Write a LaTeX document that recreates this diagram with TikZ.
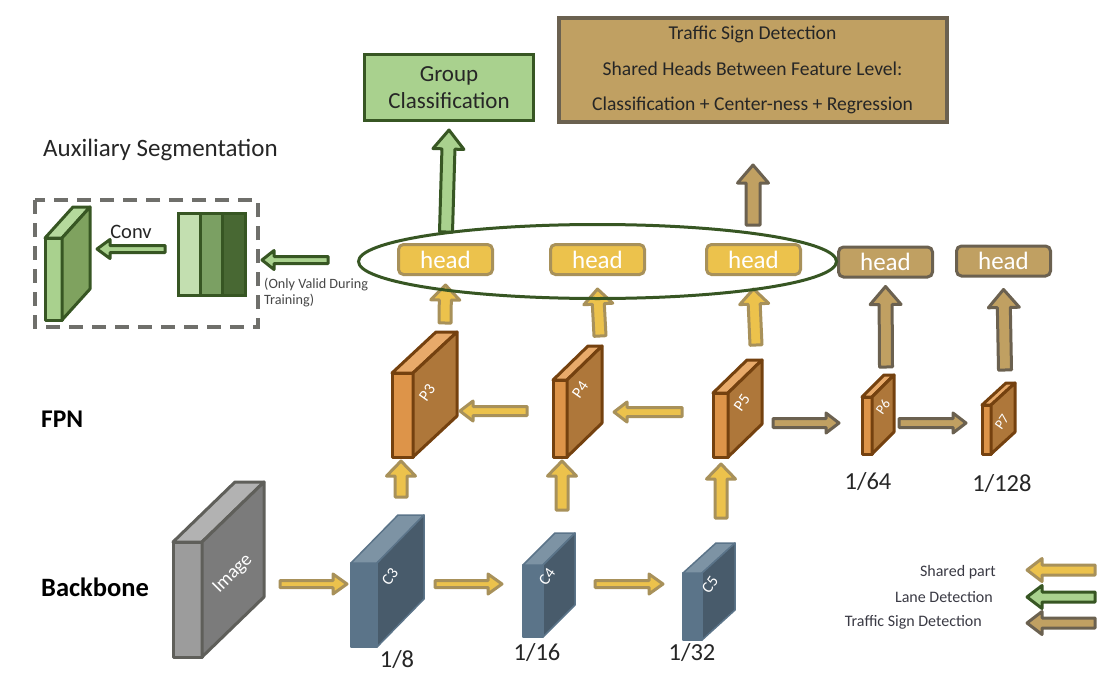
\documentclass[tikz,border=0pt]{standalone}
\usepackage{fontspec}
\setmainfont{Carlito}
\usetikzlibrary{calc,shapes.geometric}
\definecolor{yfill}{HTML}{ECC24C}
\definecolor{yline}{HTML}{A8915A}
\definecolor{tfill}{HTML}{C0A062}
\definecolor{tline}{HTML}{6B6150}
\definecolor{gfill}{HTML}{A9D18E}
\definecolor{gline}{HTML}{375623}
\definecolor{Pfront}{HTML}{DD9449}
\definecolor{Pside}{HTML}{AE773A}
\definecolor{Ptop}{HTML}{E8AA6A}
\definecolor{Pdraw}{HTML}{74410F}
\definecolor{Cfront}{HTML}{5B7489}
\definecolor{Cside}{HTML}{485B6B}
\definecolor{Ctop}{HTML}{7D93A4}
\definecolor{Ifront}{HTML}{9C9C9C}
\definecolor{Iside}{HTML}{7B7B7B}
\definecolor{Itop}{HTML}{B2B2B2}
\definecolor{Idraw}{HTML}{5F5F5A}
\definecolor{Afront}{HTML}{A9D18E}
\definecolor{Aside}{HTML}{7FA25F}
\definecolor{Atop}{HTML}{B5D99C}
\definecolor{txt}{HTML}{262626}
\definecolor{legtxt}{HTML}{3A3A44}
\tikzset{
  Pedge/.style={draw=Pdraw, line width=3pt, line join=round},
  Cedge/.style={draw=Cfront, line width=1.5pt, line join=round},
  Iedge/.style={draw=Idraw, line width=3pt, line join=round},
  Aedge/.style={draw=gline, line width=3pt, line join=round},
  yarrow/.style={fill=yfill, draw=yline, line width=3pt, line join=round},
  tarrow/.style={fill=tfill, draw=tline, line width=3pt, line join=round},
  garrow/.style={fill=gfill, draw=gline, line width=3pt, line join=round},
  yhead/.style={draw=yline, fill=yfill, line width=3pt, rounded corners=5pt,
     minimum width=94pt, minimum height=30pt, inner sep=0pt, text=white,
     font=\fontsize{25}{25}\selectfont},
  thead/.style={yhead, draw=tline, fill=tfill},
  cublabel/.style={text=white, inner sep=0pt, font=\fontsize{16}{16}\selectfont},
  fraclabel/.style={text=txt, inner sep=0pt, font=\fontsize{24.5}{24.5}\selectfont},
  legtext/.style={text=legtxt, anchor=east, inner sep=0pt, font=\fontsize{16}{16}\selectfont},
}
% cuboid: #1 prefix, front (#2,#3)-(#4,#5), depth (#6 right, #7 up)
\newcommand{\cuboid}[7]{%
  \filldraw[#1edge, fill=#1front] (#2,#3) rectangle (#4,#5);
  \filldraw[#1edge, fill=#1top] (#2,#3) -- (#4,#3) -- ({#4+#6},{#3-#7}) -- ({#2+#6},{#3-#7}) -- cycle;
  \filldraw[#1edge, fill=#1side] (#4,#3) -- ({#4+#6},{#3-#7}) -- ({#4+#6},{#5-#7}) -- (#4,#5) -- cycle;
}
% block arrow: #1 style, #2 from, #3 to, #4 half shaft, #5 half head, #6 head length
\newcommand{\blockarrow}[6]{%
  \coordinate (bah) at ($(#3)!#6!(#2)$);
  \filldraw[#1] ($(#2)!#4!90:(#3)$) -- ($(bah)!#4!90:(#3)$) -- ($(bah)!#5!90:(#3)$) -- (#3)
     -- ($(bah)!#5!-90:(#3)$) -- ($(bah)!#4!-90:(#3)$) -- ($(#2)!#4!-90:(#3)$) -- cycle;
}
\begin{document}
\begin{tikzpicture}[x=1pt,y=-1pt]
\useasboundingbox (0,0) rectangle (1118,682);
\fill[white] (0,0) rectangle (1118,682);

% ---------- Auxiliary segmentation ----------
\node[anchor=west, text=txt, inner sep=0pt, font=\fontsize{25}{25}\selectfont] (auxlabel) at (43,150) {Auxiliary Segmentation};
\draw[draw=Idraw!90, line width=4pt, dash pattern=on 14pt off 9pt] (35,200) rectangle (258,327);
\cuboid{A}{45}{238}{62}{320}{28}{31}
\coordinate (auxslab) at (75,265);
\filldraw[draw=gline, line width=3pt, fill=gfill!70!white] (178,213) rectangle (200.3,295);
\filldraw[draw=gline, line width=3pt, fill=gfill!60!gline] (200.3,213) rectangle (222.6,295);
\filldraw[draw=gline, line width=3pt, fill=gline!85!gfill] (222.6,213) rectangle (245,295);
\coordinate (convs) at (165,249);
\coordinate (convt) at (97,249);
\blockarrow{garrow}{convs}{convt}{3.5pt}{9.5pt}{13pt}
\node[text=txt, inner sep=0pt, font=\fontsize{20.5}{20.5}\selectfont] (convlabel) at (131,232) {Conv};
\coordinate (auxs) at (328,260);
\coordinate (auxt) at (262,260);
\blockarrow{garrow}{auxs}{auxt}{3.5pt}{9.5pt}{12pt}
\node[anchor=north west, text=txt!85, inner sep=0pt, align=left, font=\fontsize{14.2}{15.5}\selectfont] (validlabel) at (264,278) {(Only Valid During\\Training)};

% ---------- top boxes ----------
\node[draw=gline, fill=gfill, line width=3pt, minimum width=169pt, minimum height=66pt, inner sep=0pt,
  align=center, text=txt, font=\fontsize{23}{27}\selectfont] (group) at (449,87.5) {Group\\Classification};
\node[draw=tline, fill=tfill, line width=4pt, minimum width=388pt, minimum height=104pt, inner sep=0pt,
  align=center, text=txt, font=\fontsize{19.6}{35.5}\selectfont] (traffic) at (752.5,70) {Traffic Sign Detection\\Shared Heads Between Feature Level:\\Classification + Center-ness + Regression};

% ---------- heads ----------
\node[yhead] (head1) at (445.5,259.5) {head};
\node[yhead] (head2) at (597.5,259.5) {head};
\node[yhead] (head3) at (753.5,259.5) {head};
\node[thead] (head4) at (885.5,262) {head};
\node[thead] (head5) at (1003.5,261) {head};

% ---------- FPN ----------
\node[anchor=west, text=black, inner sep=0pt, font=\bfseries\fontsize{25.5}{25.5}\selectfont] (fpn) at (41,419) {FPN};
\cuboid{P}{392}{373}{413}{457}{44}{41}
\cuboid{P}{553}{380}{567}{457}{35}{34}
\cuboid{P}{713}{393}{728}{457}{34}{33}
\cuboid{P}{862}{397}{872}{454}{22}{22}
\cuboid{P}{982}{405}{991}{454}{24}{22}
\node[cublabel, rotate=55] (p3) at (427,393) {P3};
\node[cublabel, rotate=55] (p4) at (580,390) {P4};
\node[cublabel, rotate=55] (p5) at (742,403) {P5};
\node[cublabel, rotate=55, font=\fontsize{14}{14}\selectfont] (p6) at (883,407) {P6};
\node[cublabel, rotate=55, font=\fontsize{14}{14}\selectfont] (p7) at (1002,422) {P7};
\node[fraclabel] (f64) at (868,482) {1/64};
\node[fraclabel] (f128) at (1002,484) {1/128};

% ---------- Backbone ----------
\node[anchor=west, text=black, inner sep=0pt, font=\bfseries\fontsize{26.5}{26.5}\selectfont] (backbone) at (41,587) {Backbone};
\cuboid{I}{173}{542}{202}{657}{62}{60}
\node[text=white, inner sep=0pt, rotate=45, font=\fontsize{19}{19}\selectfont] (imglabel) at (233,574) {Image};
\cuboid{C}{351}{563}{377}{647}{47}{48}
\cuboid{C}{523}{565}{543}{637}{32}{32}
\cuboid{C}{683}{573}{702}{640}{33}{30}
\node[cublabel, rotate=55] (c3) at (390,577) {C3};
\node[cublabel, rotate=55] (c4) at (547,577) {C4};
\node[cublabel, rotate=55] (c5) at (710,585) {C5};
\node[fraclabel] (f8) at (397,660) {1/8};
\node[fraclabel] (f16) at (537,653) {1/16};
\node[fraclabel] (f32) at (692,653) {1/32};

% ---------- arrows ----------
\coordinate (a1s) at (280,584); \coordinate (a1t) at (347,584);
\coordinate (a2s) at (435,584); \coordinate (a2t) at (502,584);
\coordinate (a3s) at (595,584); \coordinate (a3t) at (663,584);
\blockarrow{yarrow}{a1s}{a1t}{3.5pt}{10pt}{14pt}
\blockarrow{yarrow}{a2s}{a2t}{3.5pt}{10pt}{14pt}
\blockarrow{yarrow}{a3s}{a3t}{3.5pt}{10pt}{14pt}
\coordinate (u1s) at (401,497); \coordinate (u1t) at (401,461);
\coordinate (u2s) at (562,510); \coordinate (u2t) at (562,461);
\coordinate (u3s) at (721,518); \coordinate (u3t) at (721,464);
\blockarrow{yarrow}{u1s}{u1t}{6pt}{14.5pt}{15pt}
\blockarrow{yarrow}{u2s}{u2t}{6pt}{14.5pt}{15pt}
\blockarrow{yarrow}{u3s}{u3t}{6pt}{14.5pt}{15pt}
\coordinate (l1s) at (527,411); \coordinate (l1t) at (460,411);
\coordinate (l2s) at (682,412); \coordinate (l2t) at (614,412);
\blockarrow{yarrow}{l1s}{l1t}{4.5pt}{10pt}{13pt}
\blockarrow{yarrow}{l2s}{l2t}{4.5pt}{10pt}{13pt}
\coordinate (r1s) at (773,423); \coordinate (r1t) at (839,423);
\coordinate (r2s) at (899,423); \coordinate (r2t) at (966,423);
\blockarrow{tarrow}{r1s}{r1t}{4.5pt}{10pt}{13pt}
\blockarrow{tarrow}{r2s}{r2t}{4.5pt}{10pt}{13pt}
\coordinate (h1s) at (445,323); \coordinate (h1t) at ($(head1.south)+(0,9)$);
\coordinate (h2s) at (600,336); \coordinate (h2t) at ($(head2.south)+(0,13)$);
\coordinate (h3s) at (756,345); \coordinate (h3t) at ($(head3.south)+(0,13)$);
\blockarrow{yarrow}{h1s}{h1t}{6pt}{14.5pt}{15pt}
\blockarrow{yarrow}{h2s}{h2t}{6pt}{14.5pt}{15pt}
\blockarrow{yarrow}{h3s}{h3t}{6pt}{14.5pt}{15pt}
\coordinate (h4s) at (886,367); \coordinate (h4t) at ($(head4.south)+(0,8)$);
\coordinate (h5s) at (1005,370); \coordinate (h5t) at ($(head5.south)+(0,12)$);
\blockarrow{tarrow}{h4s}{h4t}{6.5pt}{15.5pt}{18pt}
\blockarrow{tarrow}{h5s}{h5t}{6.5pt}{15.5pt}{18pt}
\coordinate (gs) at (446,232); \coordinate (gt) at ($(group.south)+(0,8)$);
\blockarrow{garrow}{gs}{gt}{6.5pt}{15.5pt}{19pt}
\coordinate (ts) at (753,225); \coordinate (tt) at (753,165);
\blockarrow{tarrow}{ts}{tt}{7pt}{15.5pt}{18pt}

% ---------- ellipse ----------
\node[draw=gline, line width=3pt, ellipse, minimum width=478pt, minimum height=74pt, inner sep=0pt] (ell) at (597.5,261.5) {};

% ---------- legend ----------
\node[legtext] (leg1) at (996,572) {Shared part};
\node[legtext] (leg2) at (993,597) {Lane Detection};
\node[legtext] (leg3) at (982,622) {Traffic Sign Detection};
\coordinate (g1s) at (1095,570); \coordinate (g1t) at (1027,570);
\coordinate (g2s) at (1095,597); \coordinate (g2t) at (1027,597);
\coordinate (g3s) at (1095,623); \coordinate (g3t) at (1027,623);
\blockarrow{yarrow}{g1s}{g1t}{5pt}{11.5pt}{15pt}
\blockarrow{garrow}{g2s}{g2t}{5pt}{11.5pt}{15pt}
\blockarrow{tarrow}{g3s}{g3t}{5pt}{11.5pt}{15pt}
\end{tikzpicture}
\end{document}
